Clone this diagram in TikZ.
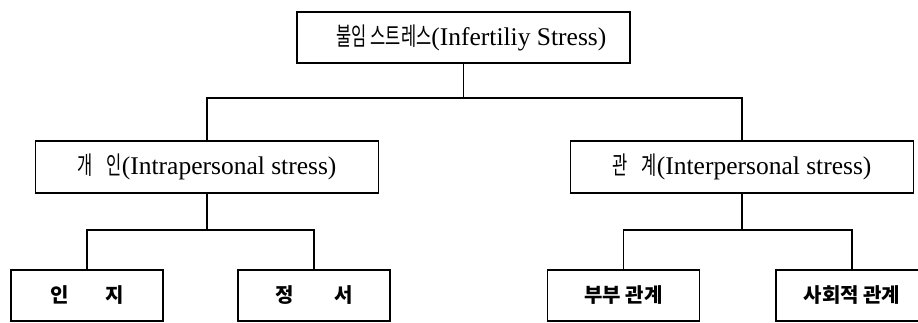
\documentclass[tikz,border=0pt]{standalone}
\usepackage{fontspec}
\setmainfont{Liberation Serif}
\newfontfamily\kr{Noto Sans CJK KR}
\newfontfamily\krn[FakeStretch=0.66]{Noto Sans CJK KR}
\begin{document}
\begin{tikzpicture}[x=1pt,y=-1pt,
  box/.style={draw,line width=1.8pt,rectangle,inner sep=0pt,anchor=center},
  wide/.style={box,minimum width=343pt,minimum height=52pt},
  leaf/.style={box,minimum width=152pt,minimum height=51pt,
    font=\kr\bfseries\fontsize{20}{23}\selectfont},
  link/.style={line width=1.8pt},
  latin/.style={font=\fontsize{25.5}{28}\selectfont}]
  \useasboundingbox (0,0) rectangle (918,323);

  % root
  \node[box,latin,minimum width=333pt,minimum height=51pt] (root) at (463.5,37.5)
    {\hspace{16pt}{\krn\fontsize{25}{27}\selectfont 불임 스트레스}(Infertiliy Stress)};

  % second level
  \node[wide,latin] (intra) at (207,167)
    {{\krn\fontsize{25}{27}\selectfont 개\hspace{14pt}인}(Intrapersonal stress)\hspace{10pt}};
  \node[wide,latin] (inter) at (742,167)
    {{\krn\fontsize{25}{27}\selectfont 관\hspace{14pt}계}(Interpersonal stress)\hspace{12pt}};

  % third level
  \node[leaf] (cog) at (87,295.5)  {인\hspace{36pt}지\hspace{6pt}};
  \node[leaf] (emo) at (314,295.5) {정\hspace{40pt}서};
  \node[leaf] (mar) at (623.5,295.5) {부부 관계};
  \node[leaf] (soc) at (852,295.5) {사회적 관계};

  % junctions
  \coordinate (j0) at (463.5,98);
  \coordinate (j1) at (207,230);
  \coordinate (j2) at (742,230);

  % connectors
  \draw[link] (root.south) -- (j0);
  \draw[link] (intra.north) |- (j0) -| (inter.north);
  \draw[link] (intra.south) -- (j1);
  \draw[link] (cog.north) |- (j1) -| (emo.north);
  \draw[link] (inter.south) -- (j2);
  \draw[link] (mar.north) |- (j2) -| (soc.north);
\end{tikzpicture}
\end{document}
